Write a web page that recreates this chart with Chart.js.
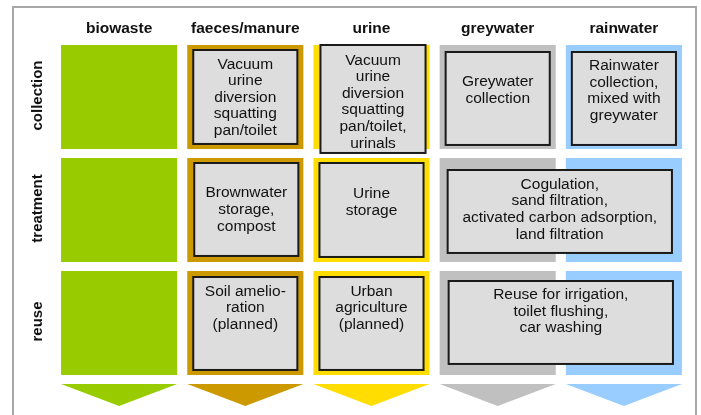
<!DOCTYPE html>
<html><head><meta charset="utf-8">
<script src="https://cdn.jsdelivr.net/npm/chart.js@4/dist/chart.umd.min.js"></script>
<style>html,body{margin:0;padding:0;background:#fff;}canvas{display:block;}</style>
</head><body>
<canvas id="c" width="701" height="415"></canvas>
<script>
// ---- data ----
const columns = ['biowaste', 'faeces/manure', 'urine', 'greywater', 'rainwater'];
const stages = ['collection', 'treatment', 'reuse'];
const collectionRange = [[0, 0.92], [0, 0.92], [0, 0.92], [0, 0.92], [0, 0.92]];
const treatmentRange  = [[1, 1.92], [1, 1.92], [1, 1.92], [1, 1.92], [1, 1.92]];
const reuseRange      = [[2, 2.92], [2, 2.92], [2, 2.92], [2, 2.92], [2, 2.92]];
const outletRange     = [3.0, 3.195];
const boxStage = [0, 0, 0, 0, 1, 1, 1, 2, 2, 2];
const boxFrom  = [1, 2, 3, 4, 1, 2, 3, 1, 2, 3];
const boxTo    = [1, 2, 3, 4, 1, 2, 4, 1, 2, 4];
const boxText = [
  'Vacuum\nurine\ndiversion\nsquatting\npan/toilet',
  'Vacuum\nurine\ndiversion\nsquatting\npan/toilet,\nurinals',
  'Greywater\ncollection',
  'Rainwater\ncollection,\nmixed with\ngreywater',
  'Brownwater\nstorage,\ncompost',
  'Urine\nstorage',
  'Cogulation,\nsand filtration,\nactivated carbon adsorption,\nland filtration',
  'Soil amelio-\nration\n(planned)',
  'Urban\nagriculture\n(planned)',
  'Reuse for irrigation,\ntoilet flushing,\ncar washing'
];

// ---- styles ----
const columnColors = ['#99cc00', '#cc9900', '#ffdd00', '#c0c0c0', '#99ccff'];
const boxInsets = [[6,5,6,5],[7,0,4,-4],[6,7,6,4],[6,7,6,4],[7,5,5,6],[6,5,6,5],[8,12,10,9],[6,6,6,5],[6,6,6,5],[9,10,9,11]];
const boxBaseline = [18.5,19.5,34,18,34.3,35,18.7,18.7,18.7,18];
const FONT = '"Liberation Sans", Arial, sans-serif';
const LINE = 16.6;

const diagramPlugin = {
  id: 'diagram',
  beforeDraw(chart) {
    const ctx = chart.ctx;
    ctx.save();
    ctx.fillStyle = '#ffffff';
    ctx.fillRect(0, 0, chart.width, chart.height);
    ctx.strokeStyle = '#a8a8a8';
    ctx.lineWidth = 2;
    ctx.strokeRect(13, 7, 683, 430);
    ctx.restore();
  },
  afterDatasetsDraw(chart) {
    const ctx = chart.ctx;
    const xs = chart.scales.x, ys = chart.scales.y;
    const meta = chart.getDatasetMeta(0);
    const half = meta.data[0].width / 2;
    ctx.save();
    // headers
    ctx.fillStyle = '#111';
    ctx.font = 'bold 15.5px ' + FONT;
    ctx.textAlign = 'center';
    ctx.textBaseline = 'alphabetic';
    columns.forEach((c, i) => ctx.fillText(c, xs.getPixelForValue(i), 33));
    // row labels
    ctx.font = 'bold 15px ' + FONT;
    ctx.textBaseline = 'middle';
    stages.forEach((s, r) => {
      const yc = ys.getPixelForValue(r + 0.46) - 1.5;
      ctx.save();
      ctx.translate(38, yc);
      ctx.rotate(-Math.PI / 2);
      ctx.fillText(s, 0, 0);
      ctx.restore();
    });
    // outlet arrows
    columns.forEach((c, i) => {
      const xc = xs.getPixelForValue(i);
      const y0 = ys.getPixelForValue(outletRange[0]);
      const y1 = ys.getPixelForValue(outletRange[1]);
      ctx.fillStyle = columnColors[i];
      ctx.beginPath();
      ctx.moveTo(xc - half, y0);
      ctx.lineTo(xc + half, y0);
      ctx.lineTo(xc, y1);
      ctx.closePath();
      ctx.fill();
    });
    // inner boxes
    boxText.forEach((t, k) => {
      const ins = boxInsets[k];
      const left = xs.getPixelForValue(boxFrom[k]) - half + ins[0];
      const right = xs.getPixelForValue(boxTo[k]) + half - ins[2];
      const top = ys.getPixelForValue(boxStage[k]) + ins[1];
      const bottom = ys.getPixelForValue(boxStage[k] + 0.92) - ins[3];
      ctx.fillStyle = '#dddddd';
      ctx.fillRect(left, top, right - left, bottom - top);
      ctx.strokeStyle = '#1a1a1a';
      ctx.lineWidth = 2;
      ctx.strokeRect(left, top, right - left, bottom - top);
      ctx.fillStyle = '#111';
      ctx.font = '15.5px ' + FONT;
      ctx.textAlign = 'center';
      ctx.textBaseline = 'alphabetic';
      const xc = (left + right) / 2;
      t.split('\n').forEach((line, j) => ctx.fillText(line, xc, top + boxBaseline[k] + j * LINE));
    });
    ctx.restore();
  }
};

const mkSet = (label, data) => ({
  label, data, backgroundColor: columnColors, borderWidth: 0, borderSkipped: false,
  grouped: false, categoryPercentage: 1, barPercentage: 0.92
});

new Chart(document.getElementById('c'), {
  type: 'bar',
  data: {
    labels: columns,
    datasets: [
      mkSet(stages[0], collectionRange),
      mkSet(stages[1], treatmentRange),
      mkSet(stages[2], reuseRange)
    ]
  },
  options: {
    responsive: false,
    devicePixelRatio: 1,
    animation: false,
    layout: { padding: { left: 56, right: 14, top: 45, bottom: 8.4 } },
    plugins: { legend: { display: false }, tooltip: { enabled: false } },
    scales: {
      x: { type: 'category', display: false, offset: true },
      y: { type: 'linear', display: false, reverse: true, min: 0, max: 3.2 }
    }
  },
  plugins: [diagramPlugin]
});
</script>
</body></html>
